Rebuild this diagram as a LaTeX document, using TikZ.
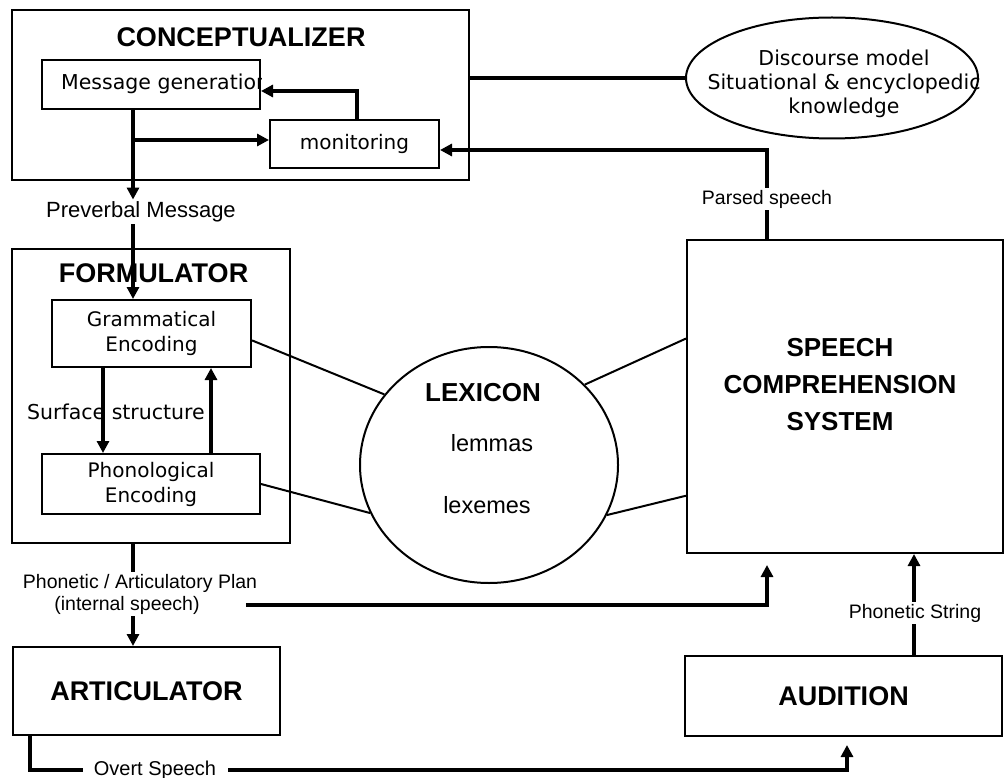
\documentclass[tikz,border=0pt]{standalone}
\usepackage{fontspec}
\setmainfont{Liberation Sans}
\newfontfamily\dv{DejaVu Sans}
\usetikzlibrary{arrows.meta,shapes.geometric,calc}
\begin{document}
\begin{tikzpicture}[x=1pt,y=-1pt,
  box/.style={draw, line width=2pt, rectangle, inner sep=0pt},
  ttl/.style={font=\bfseries\fontsize{27}{37}\selectfont, inner sep=0pt, align=center},
  small/.style={font=\dv\fontsize{20}{25}\selectfont, inner sep=0pt, align=center},
  lab/.style={font=\fontsize{19.5}{22}\selectfont, inner sep=2pt, align=center},
  arr/.style={line width=3.5pt, -{Triangle[length=12pt,width=12pt]}},
  ln/.style={line width=3.5pt},
  thinln/.style={line width=2pt},
]
\useasboundingbox (0,0) rectangle (1004,778);

% Conceptualizer
\node[box, minimum width=457pt, minimum height=170pt] (conc) at (240.5,95) {};
\node[ttl] (conct) at (241,37) {CONCEPTUALIZER};
\node[box, minimum width=218pt, minimum height=49pt] (mg) at (151,84.5) {};
\begin{scope}
  \clip (mg.north west) rectangle (mg.south east);
  \node[small, font=\dv\fontsize{20.5}{25}\selectfont, anchor=west] (mgt) at (61,84) {Message generation};
\end{scope}
\node[box, small, minimum width=169pt, minimum height=48pt] (mon) at (354.5,144) {monitoring};

% Discourse model
\node[draw, line width=2pt, ellipse, minimum width=292pt, minimum height=121pt, inner sep=0pt] (disc) at (832,78) {};
\node[small, font=\dv\fontsize{20.5}{24}\selectfont] (disct) at (844,84) {Discourse model\\Situational \& encyclopedic\\knowledge};

% Formulator
\node[box, minimum width=278pt, minimum height=294pt] (form) at (151,396) {};
\node[ttl] (formt) at (153.5,273) {FORMULATOR};
\node[box, small, minimum width=199pt, minimum height=67pt] (ge) at (151.5,333.5) {Grammatical\\Encoding};
\node[box, small, minimum width=218pt, minimum height=60pt] (pe) at (151,484) {Phonological\\Encoding};
\node[small, font=\dv\fontsize{20.5}{24}\selectfont] (surf) at (116,412) {Surface structure};

% Lexicon
\node[draw, line width=2pt, ellipse, minimum width=258pt, minimum height=236pt, inner sep=0pt] (lex) at (489,465) {};
\node[ttl, font=\bfseries\fontsize{26}{30}\selectfont] (lext) at (483,393) {LEXICON};
\node[font=\fontsize{23.5}{28}\selectfont, inner sep=0pt] (lem) at (492,443) {lemmas};
\node[font=\fontsize{23.5}{28}\selectfont, inner sep=0pt] (lxm) at (487,505) {lexemes};

% Speech comprehension system
\node[box, minimum width=316pt, minimum height=313pt] (scs) at (845,396.5) {};
\node[ttl, font=\bfseries\fontsize{26}{37}\selectfont] (scst) at (840,385) {SPEECH\\COMPREHENSION\\SYSTEM};

% Articulator, Audition
\node[box, ttl, minimum width=267pt, minimum height=88pt] (art) at (146.5,691) {ARTICULATOR};
\node[box, ttl, minimum width=317pt, minimum height=80pt] (aud) at (843.5,696) {AUDITION};

% Labels
\node[lab, font=\fontsize{22}{24}\selectfont] (pv) at (141,212) {Preverbal Message};
\node[lab] (pl1) at (140,583) {Phonetic / Articulatory Plan};
\node[lab] (pl2) at (127,605) {(internal speech)};
\node[lab] (ps) at (767,199) {Parsed speech};
\node[lab] (phs) at (915,613) {Phonetic String};
\node[lab, font=\fontsize{20}{24}\selectfont] (ov) at (155,770) {Overt Speech};

% helper coordinates
\coordinate (xa) at (133,0);
\coordinate (xb) at (103,0);
\coordinate (xc) at (211,0);
\coordinate (xs) at (767,0);
\coordinate (xp) at (914,0);
\coordinate (xo) at (30,0);
\coordinate (br) at (0,140);
\coordinate (pm) at (0,150);
\coordinate (t1) at (767,565);
\coordinate (t2) at (847,745);

% Connectors
\draw[arr] ([xshift=2.5pt]mon.north) |- ([yshift=-6.5pt]mg.east);
\draw[arr] (xa |- mg.south) -- (xa |- pv.north);
\draw[arr] (xa |- br) -- (mon.west |- br);
\draw[arr] (xa |- pv.south) -- (xa |- ge.north);
\draw[arr] (xb |- ge.south) -- (xb |- pe.north);
\draw[arr] (xc |- pe.north) -- (xc |- ge.south);
\draw[ln] (xa |- form.south) -- (xa |- pl1.north);
\draw[arr] (xa |- pl2.south) -- (xa |- art.north);
\draw[arr] ([xshift=44pt]pl2.east) -| (t1);
\draw[ln] (xs |- scs.north) -- (xs |- ps.south);
\draw[arr] (xs |- ps.north) |- (mon.east |- pm);
\draw[ln] (xp |- aud.north) -- (xp |- phs.south);
\draw[arr] (xp |- phs.north) -- (xp |- scs.south);
\draw[ln] (xo |- art.south) |- ([xshift=-9pt]ov.west);
\draw[arr] ([xshift=10pt]ov.east) -| (t2);
\draw[ln] ([yshift=17pt]conc.east) -- (disc.west);

\draw[thinln] ($(ge.north east)!0.6!(ge.south east)$) -- (lex.146);
\draw[thinln] (pe.east) -- (lex.202);
\draw[thinln] (lex.40) -- ($(scs.north west)!0.316!(scs.south west)$);
\draw[thinln] (lex.-23) -- ($(scs.north west)!0.815!(scs.south west)$);
\end{tikzpicture}
\end{document}
